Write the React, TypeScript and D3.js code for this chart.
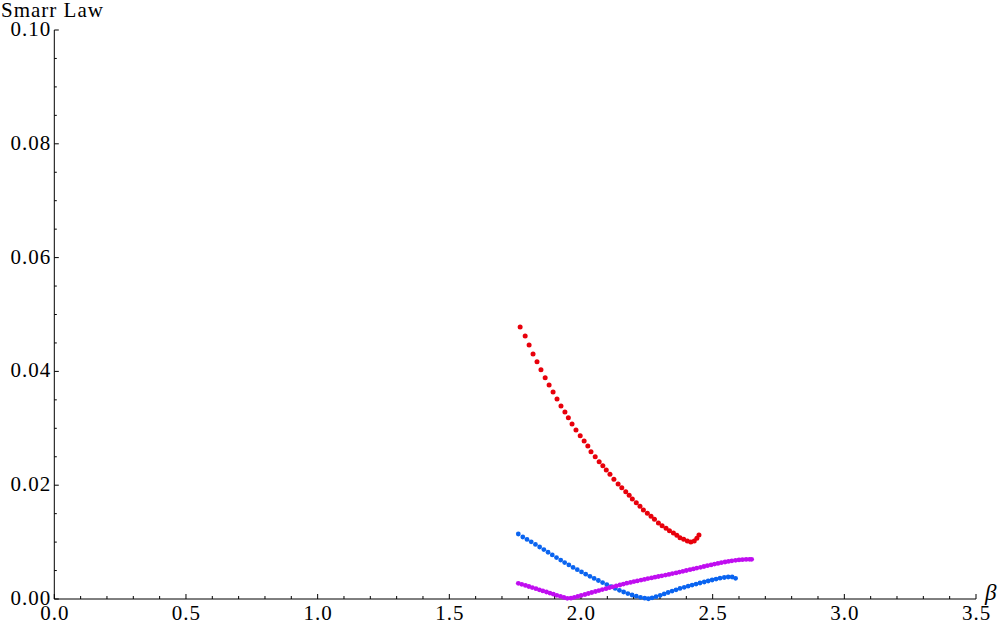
import React, { useRef, useEffect } from "react";
import * as d3 from "d3";

// beta values and Smarr-law residuals
const redBeta = [
  1.769, 1.788, 1.803, 1.818, 1.833, 1.848, 1.864, 1.879, 1.894, 1.909, 1.924, 1.939, 1.952,
  1.966, 1.981, 1.997, 2.012, 2.026, 2.038, 2.054, 2.069, 2.083, 2.096, 2.11, 2.125, 2.141,
  2.155, 2.17, 2.183, 2.195, 2.21, 2.224, 2.237, 2.252, 2.266, 2.279, 2.294, 2.308, 2.323,
  2.336, 2.351, 2.364, 2.376, 2.39, 2.404, 2.417, 2.43, 2.44, 2.448,
];
const redValues = [
  0.0478, 0.04622, 0.04464, 0.04306, 0.0417, 0.0403, 0.03889, 0.03761, 0.03638, 0.03515,
  0.03392, 0.03286, 0.03186, 0.03076, 0.0297, 0.0287, 0.02777, 0.02689, 0.02589, 0.02501,
  0.02413, 0.02343, 0.02267, 0.02192, 0.02104, 0.02021, 0.01956, 0.01886, 0.01822, 0.01757,
  0.01692, 0.01629, 0.01564, 0.01506, 0.01453, 0.01401, 0.01336, 0.01288, 0.01243, 0.012,
  0.0116, 0.0112, 0.01077, 0.01049, 0.01019, 0.01002, 0.01019, 0.01067, 0.01125,
];

const blueBeta = [
  1.762, 1.779, 1.795, 1.811, 1.827, 1.843, 1.859, 1.875, 1.891, 1.907, 1.923, 1.938, 1.954,
  1.97, 1.986, 2.002, 2.018, 2.034, 2.05, 2.066, 2.082, 2.098, 2.114, 2.13, 2.146, 2.162,
  2.178, 2.194, 2.21, 2.226, 2.242, 2.256, 2.27, 2.285, 2.301, 2.316, 2.331, 2.346, 2.361,
  2.376, 2.392, 2.407, 2.422, 2.437, 2.452, 2.468, 2.483, 2.498, 2.513, 2.528, 2.544, 2.559,
  2.574, 2.587,
];
const blueValues = [
  0.01142, 0.0109, 0.01047, 0.01004, 0.0096, 0.00914, 0.00868, 0.00822, 0.00775, 0.00728,
  0.00684, 0.0064, 0.00598, 0.00555, 0.00515, 0.00475, 0.00436, 0.00399, 0.00362, 0.00325,
  0.00288, 0.00253, 0.00218, 0.00185, 0.00153, 0.00123, 0.00095, 0.0007, 0.00049, 0.0003,
  0.00014, 0.00004, 0.00021, 0.0004, 0.00065, 0.0009, 0.00114, 0.00139, 0.00162, 0.00185,
  0.00206, 0.00225, 0.00244, 0.00262, 0.00281, 0.00299, 0.00316, 0.00334, 0.0035, 0.00366,
  0.00378, 0.00387, 0.00387, 0.00364,
];

const purpleBeta = [
  1.762, 1.775, 1.789, 1.802, 1.815, 1.829, 1.842, 1.855, 1.869, 1.882, 1.895, 1.908, 1.922,
  1.935, 1.948, 1.962, 1.975, 1.988, 2.001, 2.015, 2.028, 2.041, 2.055, 2.068, 2.081, 2.095,
  2.108, 2.121, 2.134, 2.148, 2.161, 2.174, 2.188, 2.201, 2.214, 2.228, 2.241, 2.254, 2.268,
  2.281, 2.294, 2.307, 2.321, 2.334, 2.347, 2.361, 2.374, 2.387, 2.4, 2.414, 2.427, 2.44,
  2.454, 2.467, 2.48, 2.494, 2.507, 2.52, 2.533, 2.547, 2.56, 2.573, 2.587, 2.6, 2.613,
  2.627, 2.64, 2.648,
];
const purpleValues = [
  0.00276, 0.00258, 0.00239, 0.0022, 0.002, 0.00181, 0.00162, 0.00142, 0.00123, 0.00104,
  0.00084, 0.00065, 0.00046, 0.00028, 0.00012, 0.00014, 0.0003, 0.00046, 0.00063, 0.00079,
  0.00097, 0.00114, 0.00132, 0.00148, 0.00165, 0.00181, 0.00199, 0.00214, 0.0023, 0.00246,
  0.00262, 0.00278, 0.00292, 0.00306, 0.00318, 0.00332, 0.00344, 0.00359, 0.00371, 0.00383,
  0.00395, 0.00408, 0.0042, 0.00432, 0.00446, 0.00459, 0.00473, 0.00487, 0.00501, 0.00515,
  0.00529, 0.00543, 0.00557, 0.00571, 0.00585, 0.00599, 0.00613, 0.00626, 0.00638, 0.0065,
  0.00661, 0.00671, 0.0068, 0.00687, 0.00692, 0.00696, 0.00698, 0.00698,
];

const xMajor = [0, 0.5, 1, 1.5, 2, 2.5, 3, 3.5];
const yMajor = [0, 0.02, 0.04, 0.06, 0.08, 0.1];

const series = [
  { beta: redBeta, values: redValues, color: "#e8000b", r: 2.5 },
  { beta: blueBeta, values: blueValues, color: "#0a64f0", r: 2.4 },
  { beta: purpleBeta, values: purpleValues, color: "#c00ef0", r: 2.4 },
];

const FONT = "'Liberation Serif', 'Times New Roman', serif";

export default function App() {
  const svgRef = useRef<SVGSVGElement>(null);

  useEffect(() => {
    const width = 1000;
    const height = 628;
    const svg = d3.select(svgRef.current);
    svg.selectAll("*").remove();
    svg.attr("width", width).attr("height", height);

    const x = d3.scaleLinear().domain([0, 3.5]).range([54.3, 976]);
    const y = d3.scaleLinear().domain([0, 0.1]).range([599, 30]);

    // minor ticks: 0.1 on beta, 0.005 on the residual
    const xMinor = d3.range(0, 36).map((i) => i / 10).filter((v) => Math.round(v * 10) % 5 !== 0);
    const yMinor = d3.range(0, 21).map((i) => i * 0.005).filter((_, i) => i % 4 !== 0);

    const axes = svg.append("g").attr("stroke", "#000").attr("stroke-width", 1);

    axes.append("line").attr("x1", x(0)).attr("x2", x(3.5)).attr("y1", y(0)).attr("y2", y(0));
    axes.append("line").attr("x1", x(0)).attr("x2", x(0)).attr("y1", y(0)).attr("y2", y(0.1));

    axes
      .selectAll("line.xt")
      .data([...xMajor.map((v) => [v, 5]), ...xMinor.map((v) => [v, 3])])
      .join("line")
      .attr("class", "xt")
      .attr("x1", (d) => x(d[0]))
      .attr("x2", (d) => x(d[0]))
      .attr("y1", y(0))
      .attr("y2", (d) => y(0) - d[1]);

    axes
      .selectAll("line.yt")
      .data([...yMajor.map((v) => [v, 4.5]), ...yMinor.map((v) => [v, 2.5])])
      .join("line")
      .attr("class", "yt")
      .attr("x1", x(0))
      .attr("x2", (d) => x(0) + d[1])
      .attr("y1", (d) => y(d[0]))
      .attr("y2", (d) => y(d[0]));

    const labels = svg
      .append("g")
      .attr("font-family", FONT)
      .attr("font-size", 21)
      .attr("letter-spacing", 1)
      .attr("fill", "#000");

    labels
      .selectAll("text.xl")
      .data(xMajor)
      .join("text")
      .attr("class", "xl")
      .attr("x", (d) => x(d) + 0.5)
      .attr("y", y(0) + 21)
      .attr("text-anchor", "middle")
      .text(d3.format(".1f"));

    labels
      .selectAll("text.yl")
      .data(yMajor)
      .join("text")
      .attr("class", "yl")
      .attr("x", x(0) - 3)
      .attr("y", (d) => y(d) + 6)
      .attr("text-anchor", "end")
      .text(d3.format(".2f"));

    labels.append("text").attr("x", 1).attr("y", 17).text("Smarr Law");

    labels
      .append("text")
      .attr("x", 985)
      .attr("y", 600)
      .attr("font-style", "italic")
      .attr("font-size", 23)
      .text("β");

    series.forEach((s) => {
      svg
        .append("g")
        .attr("fill", s.color)
        .selectAll("circle")
        .data(s.beta.map((b, i) => [b, s.values[i]]))
        .join("circle")
        .attr("cx", (d) => x(d[0]))
        .attr("cy", (d) => y(d[1]))
        .attr("r", s.r);
    });
  }, []);

  return (
    <svg
      ref={svgRef}
      style={{ position: "absolute", left: 0, top: 0, background: "#fff" }}
    ></svg>
  );
}
